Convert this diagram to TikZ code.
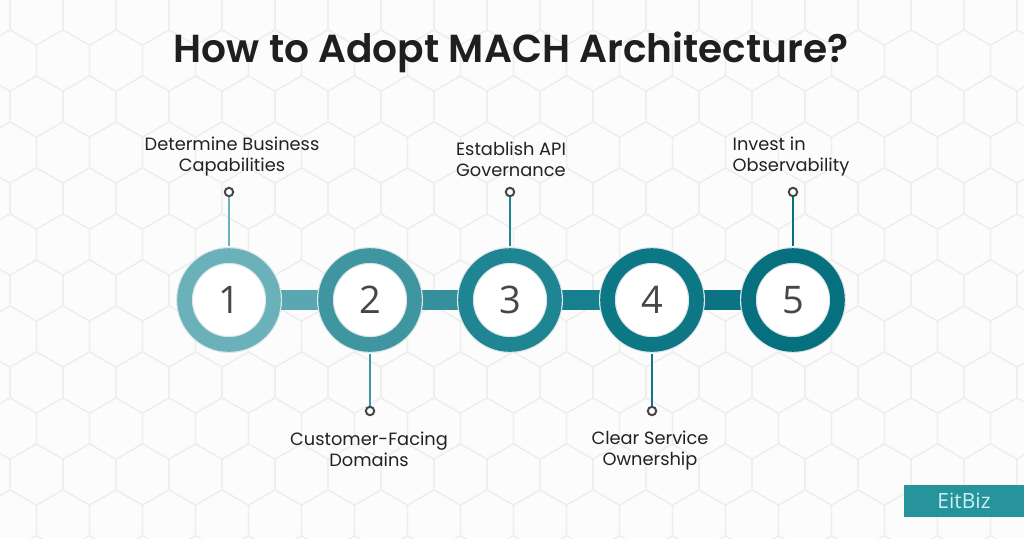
\documentclass[tikz,border=0pt]{standalone}
\usepackage{fontspec}
\setmainfont{Poppins}
\newfontfamily\headfont{Poppins SemiBold}
\newfontfamily\digitfont{Open Sans}
\usetikzlibrary{positioning}
\pgfdeclarelayer{bg}
\pgfsetlayers{bg,main}

\definecolor{paper}{HTML}{FCFCFC}
\definecolor{hexline}{HTML}{EEEEEE}
\definecolor{ringedge}{HTML}{DDE6E8}
\definecolor{numgray}{HTML}{474747}
\definecolor{dotgray}{HTML}{454545}
\definecolor{labeltext}{HTML}{222222}
\definecolor{ringA}{HTML}{6BB1BA}
\definecolor{ringB}{HTML}{3F96A1}
\definecolor{ringC}{HTML}{1F8593}
\definecolor{ringD}{HTML}{0E7786}
\definecolor{ringE}{HTML}{07707F}
\definecolor{barA}{HTML}{5AA7B1}
\definecolor{barB}{HTML}{35909B}
\definecolor{barC}{HTML}{177F8D}
\definecolor{barD}{HTML}{0B7382}
\definecolor{brandfill}{HTML}{27939B}
\definecolor{brandtext}{HTML}{C8F3F5}

\tikzset{
  ring/.style={circle, fill=white, draw=ringedge, line width=0.6pt,
    double=#1, double distance=7.3pt, minimum size=44.5pt, inner sep=0pt,
    font=\digitfont\fontsize{19}{19}\selectfont, text=numgray},
  dot/.style={circle, draw=dotgray, line width=1pt, fill=white,
    minimum size=4.2pt, inner sep=0pt},
  stem/.style={draw=#1, line width=1.1pt, shorten >=4.3pt},
  bar/.style={draw=#1, line width=10pt},
  lbl/.style={font=\fontsize{8.9}{10.5}\selectfont, text=labeltext,
    align=center, inner sep=0pt},
  hexgrid/.style={draw=hexline, line width=0.6pt},
}

\begin{document}
\begin{tikzpicture}[x=0.5pt,y=0.5pt]
  \useasboundingbox (0,0) rectangle (1024,-538);

  % honeycomb backdrop
  \begin{pgfonlayer}{bg}
    \begin{scope}
      \clip (0,0) rectangle (1024,-538);
      \fill[paper] (0,0) rectangle (1024,-538);
      \foreach \r in {-2,...,10}
        \foreach \j in {-1,...,19}{
          \pgfmathsetmacro\cx{53*\j+ifthenelse(mod(\r+2,2)==0,36.5,10)}
          \pgfmathsetmacro\cy{-(106.5+46*\r)}
          \draw[hexgrid] (\cx,\cy) +(30:30.6) -- +(90:30.6) -- +(150:30.6)
            -- +(210:30.6) -- +(270:30.6) -- +(330:30.6) -- cycle;
        }
    \end{scope}
  \end{pgfonlayer}

  \node[font=\headfont\fontsize{19.55}{24}\selectfont, text=black!88, anchor=base]
    (title) at (511,-62) {How to Adopt MACH Architecture?};

  % steps
  \node[ring=ringA] (s1) at (229,-300) {1};
  \node[ring=ringB] (s2) at (370,-300) {2};
  \node[ring=ringC] (s3) at (510,-300) {3};
  \node[ring=ringD] (s4) at (652,-300) {4};
  \node[ring=ringE] (s5) at (793,-300) {5};

  \begin{pgfonlayer}{bg}
    \draw[bar=barA] (s1) -- (s2);
    \draw[bar=barB] (s2) -- (s3);
    \draw[bar=barC] (s3) -- (s4);
    \draw[bar=barD] (s4) -- (s5);
  \end{pgfonlayer}

  % pins
  \node[dot] (d1) at (229,-192) {};
  \node[dot] (d2) at (370,-411) {};
  \node[dot] (d3) at (510,-192) {};
  \node[dot] (d4) at (652,-411) {};
  \node[dot] (d5) at (793,-192) {};
  \draw[stem=ringA] (d1) -- (s1.north);
  \draw[stem=ringB] (d2) -- (s2.south);
  \draw[stem=ringC] (d3) -- (s3.north);
  \draw[stem=ringD] (d4) -- (s4.south);
  \draw[stem=ringE] (d5) -- (s5.north);

  \node[lbl] (t1) at (232,-157) {Determine Business\\Capabilities};
  \node[lbl] (t2) at (369,-449) {Customer-Facing\\Domains};
  \node[lbl, align=left] (t3) at (511,-159) {Establish API\\Governance};
  \node[lbl] (t4) at (650,-451) {Clear Service\\Ownership};
  \node[lbl, align=left] (t5) at (791,-157) {Invest in\\Observability};

  \node[fill=brandfill, text=brandtext, minimum width=60pt, minimum height=16pt,
    inner sep=0pt, font=\digitfont\fontsize{10.5}{12}\selectfont]
    (brand) at (964,-501) {EitBiz};
\end{tikzpicture}
\end{document}
